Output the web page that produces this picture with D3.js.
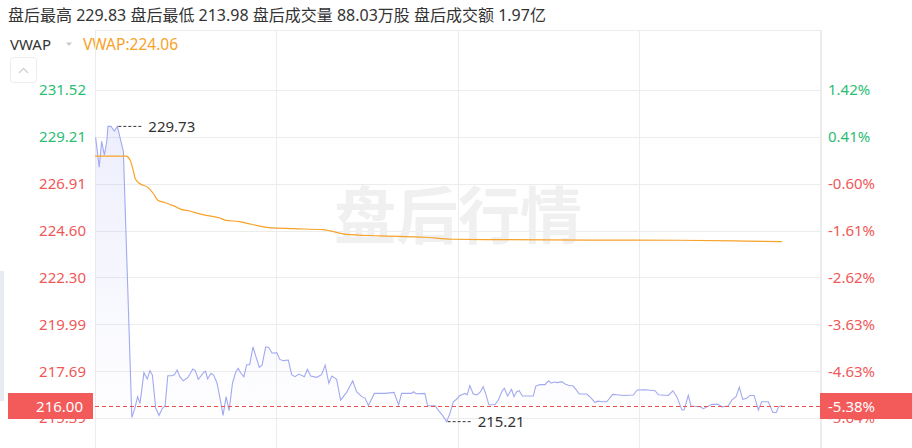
<!DOCTYPE html>
<html>
<head>
<meta charset="utf-8">
<script src="https://cdn.jsdelivr.net/npm/d3@7"></script>
<style>
  html, body { margin: 0; padding: 0; background: #fff; }
  svg { display: block; }
  text { font-family: 'Noto Sans', 'Noto Sans CJK SC', sans-serif; }
</style>
</head>
<body>
<svg id="chart" width="912" height="448"></svg>
<script>
// ---- data (minute offset from post-market open, price) ----
const minutes = [0.2,1.4,2.2,3.1,3.9,4.3,5.3,6.4,7.4,9.4,12.2,13.2,14.1,14.9,16.2,17.3,18.2,19.0,20.1,21.2,22.3,23.2,24.1,25.4,26.3,27.2,28.1,29.2,30.7,32.4,33.2,34.2,35.9,36.6,37.3,38.4,39.3,40.4,41.5,42.4,43.4,44.4,45.5,46.6,47.4,48.3,49.3,50.2,51.2,52.3,53.3,54.4,55.3,56.5,57.5,58.6,60.2,61.2,62.3,64.0,65.1,66.2,67.5,69.3,70.3,71.4,73.4,75.0,76.2,77.4,78.4,80.0,81.3,83.3,85.3,86.6,88.3,89.4,90.5,92.5,96.0,99.0,100.5,101.5,104.8,105.4,106.3,109.2,110.1,112.6,113.6,114.8,116.4,117.5,118.6,119.7,120.6,121.4,122.5,123.2,124.1,125.2,126.4,127.5,128.5,129.3,130.4,132.4,133.5,134.8,135.5,136.6,137.9,138.7,139.6,140.4,141.5,145.1,145.9,147.3,149.0,150.1,151.0,152.0,153.2,154.5,155.6,156.7,158.3,159.2,160.3,162.8,164.1,165.5,166.6,167.7,169.4,171.4,172.7,174.9,178.2,179.5,182.1,185.4,186.5,189.8,191.3,192.6,194.3,195.0,196.4,197.3,200.3,201.4,204.2,206.3,207.5,209.6,210.8,212.2,213.3,214.4,215.7,216.8,218.2,219.6,220.7,222.9,224.4,225.5,226.3,227.4];
const prices = [229.19,227.72,229.00,228.32,229.00,229.73,229.73,229.50,229.73,228.49,215.42,215.87,216.44,216.11,217.62,217.31,217.72,217.50,215.87,215.52,215.87,215.98,217.47,217.47,217.52,217.75,217.42,217.22,217.37,217.80,217.72,217.29,217.62,217.69,217.31,217.59,217.50,217.10,216.27,215.52,216.44,215.75,217.10,217.65,217.83,217.59,217.42,218.01,218.01,218.89,218.40,217.88,217.99,218.89,218.86,218.59,218.60,218.27,218.21,218.24,217.52,217.42,217.55,217.42,217.78,217.45,217.39,217.52,217.99,217.10,217.45,217.29,216.27,216.65,217.22,216.68,216.44,216.37,216.01,216.60,216.60,216.65,216.03,216.60,216.60,216.68,216.58,216.60,215.99,215.99,215.78,215.57,215.21,215.62,216.19,216.31,216.47,216.53,216.60,216.53,216.98,216.57,216.53,216.66,216.93,216.60,216.04,216.04,216.27,216.73,216.85,216.47,216.80,216.44,216.68,216.73,216.47,216.47,216.96,217.03,217.03,217.22,217.10,217.16,217.13,217.18,217.06,217.00,216.96,216.80,216.57,216.57,216.39,216.16,216.22,216.19,216.19,216.55,216.53,216.50,216.52,216.77,216.78,216.73,216.53,216.50,216.73,216.44,215.78,215.78,216.50,215.98,215.94,215.85,216.06,216.06,215.94,215.98,216.27,216.44,216.90,216.31,216.36,216.50,216.50,215.78,216.19,216.19,215.66,215.66,215.94,216.00];
const vwapMinutes = [0,10.3,11.6,12.9,13.3,14.8,17.5,19.3,20.8,23.1,26.1,28.3,31.3,34.3,37.3,41.1,43.3,47.8,50.8,54.6,57.6,65.8,75.5,77.8,83.1,94.3,109.3,118.3,133.3,163.3,193.3,215.8,227.4];
const vwapValues = [228.27,228.27,228.08,227.42,227.17,226.92,226.73,226.43,226.10,225.99,225.82,225.66,225.57,225.44,225.34,225.24,225.11,225.05,224.95,224.83,224.75,224.70,224.65,224.59,224.42,224.35,224.28,224.18,224.16,224.14,224.13,224.09,224.06];

const priceTicks = [215.39, 217.69, 219.99, 222.30, 224.60, 226.91, 229.21, 231.52];
const pctLabels  = ["-5.64%", "-4.63%", "-3.63%", "-2.62%", "-1.61%", "-0.60%", "0.41%", "1.42%"];
const timeTicks  = [0, 60, 120, 180, 240];
const prevClose = 228.28;
const lastPrice = 216.00, lastPct = "-5.38%";
const maxPoint = {m: 7.4, p: 229.73, label: "229.73"};
const minPoint = {m: 116.4, p: 215.21, label: "215.21"};
const headerItems = [["盘后最高", "229.83"], ["盘后最低", "213.98"], ["盘后成交量", "88.03万股"], ["盘后成交额", "1.97亿"]];
const vwapLabel = "VWAP", vwapNow = "VWAP:224.06";
const watermark = "盘后行情";

// ---- layout ----
const svg = d3.select("#chart");
const L = 95, R = 820, T = 30, B = 448;
const x = d3.scaleLinear().domain([0, 240]).range([L, R]);
const y = d3.scaleLinear().domain([215.39, 231.52]).range([418, 90]);
const GREEN = "#2dbd74", RED = "#f05858";
const colorFor = v => v >= prevClose ? GREEN : RED;

// header
const hdr = svg.append("text").attr("x", 8).attr("y", 15).attr("dy", "0.35em")
  .attr("font-size", 16).attr("fill", "#333");
headerItems.forEach((d, i) => {
  hdr.append("tspan").text((i ? " " : "") + d[0] + " " + d[1]);
});

svg.append("text").attr("x", 10).attr("y", 44.5).attr("dy", "0.35em")
  .attr("font-size", 15).attr("fill", "#333").text(vwapLabel);
svg.append("path").attr("d", "M66,42.5 L72,42.5 L69,46 Z").attr("fill", "#c8c8c8");
svg.append("text").attr("x", 83).attr("y", 44.5).attr("dy", "0.35em")
  .attr("font-size", 15.5).attr("fill", "#f7a229").text(vwapNow);

// collapse button
svg.append("rect").attr("x", 10.5).attr("y", 57.5).attr("width", 26).attr("height", 25).attr("rx", 3)
  .attr("fill", "#fff").attr("stroke", "#ececec");
svg.append("path").attr("d", "M19,73 L23.5,68.5 L28,73").attr("fill", "none").attr("stroke", "#d0d0d0").attr("stroke-width", 1.3);

// left side strip
svg.append("rect").attr("x", 0).attr("y", 271).attr("width", 4).attr("height", 130).attr("fill", "#e8ecf1");

// grid
const grid = svg.append("g").attr("stroke", "#ececec").attr("stroke-width", 1);
grid.append("line").attr("x1", L).attr("x2", R).attr("y1", T + 0.5).attr("y2", T + 0.5);
priceTicks.forEach(t => grid.append("line").attr("x1", L).attr("x2", R)
  .attr("y1", Math.round(y(t)) + 0.5).attr("y2", Math.round(y(t)) + 0.5));
timeTicks.forEach(t => grid.append("line").attr("x1", Math.round(x(t)) + 0.5).attr("x2", Math.round(x(t)) + 0.5)
  .attr("y1", T).attr("y2", B));
svg.append("line").attr("x1", R + 1.5).attr("x2", R + 1.5).attr("y1", T).attr("y2", B).attr("stroke", "#ececec");

// watermark
svg.append("text").attr("x", 458).attr("y", 217).attr("dy", "0.35em").attr("text-anchor", "middle")
  .attr("font-size", 62).attr("font-weight", 700).attr("fill", "#f0f0f0")
  .style("font-family", "'Noto Sans CJK SC', sans-serif").text(watermark);

// axes
const axL = svg.append("g").attr("transform", `translate(${L - 9},0)`)
  .call(d3.axisLeft(y).tickValues(priceTicks).tickSize(0).tickPadding(0).tickFormat(d3.format(".2f")));
axL.select(".domain").remove();
axL.selectAll("text").attr("font-size", 15).attr("fill", d => colorFor(d))
  .style("font-family", "'Noto Sans', sans-serif");

const axR = svg.append("g").attr("transform", `translate(${R + 8},0)`)
  .call(d3.axisRight(y).tickValues(priceTicks).tickSize(0).tickPadding(0)
    .tickFormat((d, i) => pctLabels[i]));
axR.select(".domain").remove();
axR.selectAll("text").attr("font-size", 15).attr("fill", d => colorFor(d))
  .style("font-family", "'Noto Sans', sans-serif");

// area + line
const defs = svg.append("defs");
const grad = defs.append("linearGradient").attr("id", "ag").attr("gradientUnits", "userSpaceOnUse")
  .attr("x1", 0).attr("x2", 0).attr("y1", y(229.73)).attr("y2", 430);
grad.append("stop").attr("offset", 0).attr("stop-color", "#8f98ec").attr("stop-opacity", 0.16);
grad.append("stop").attr("offset", 1).attr("stop-color", "#8f98ec").attr("stop-opacity", 0);

const pts = minutes.map((m, i) => [m, prices[i]]);
svg.append("path").datum(pts)
  .attr("d", d3.area().x(d => x(d[0])).y0(B).y1(d => y(d[1])))
  .attr("fill", "url(#ag)");
svg.append("path").datum(pts)
  .attr("d", d3.line().x(d => x(d[0])).y(d => y(d[1])))
  .attr("fill", "none").attr("stroke", "#a2a9f0").attr("stroke-width", 1.1);

const vpts = vwapMinutes.map((m, i) => [m, vwapValues[i]]);
svg.append("path").datum(vpts)
  .attr("d", d3.line().curve(d3.curveMonotoneX).x(d => x(d[0])).y(d => y(d[1])))
  .attr("fill", "none").attr("stroke", "#f7a229").attr("stroke-width", 1.2);

// max / min annotations
[maxPoint, minPoint].forEach(pt => {
  const px = x(pt.m) + 1, py = y(pt.p);
  svg.append("line").attr("x1", px).attr("x2", px + 25).attr("y1", py).attr("y2", py)
    .attr("stroke", "#333").attr("stroke-dasharray", "3,2");
  svg.append("text").attr("x", px + 30).attr("y", py).attr("dy", "0.35em")
    .attr("font-size", 15).attr("fill", "#333").text(pt.label);
});

// last price line + tags
const ly = Math.round(y(lastPrice)) + 0.5;
svg.append("line").attr("x1", L).attr("x2", R).attr("y1", ly).attr("y2", ly)
  .attr("stroke", "#e8504f").attr("stroke-dasharray", "4,3");
svg.append("rect").attr("x", 8).attr("y", ly - 13.5).attr("width", 85).attr("height", 26).attr("fill", "#f25b5a");
svg.append("text").attr("x", 83).attr("y", ly).attr("dy", "0.35em").attr("text-anchor", "end")
  .attr("font-size", 15).attr("fill", "#fff").text(d3.format(".2f")(lastPrice));
svg.append("rect").attr("x", R).attr("y", ly - 13.5).attr("width", 92).attr("height", 26).attr("fill", "#f25b5a");
svg.append("text").attr("x", R + 8).attr("y", ly).attr("dy", "0.35em")
  .attr("font-size", 15).attr("fill", "#fff").text(lastPct);
</script>
</body>
</html>
